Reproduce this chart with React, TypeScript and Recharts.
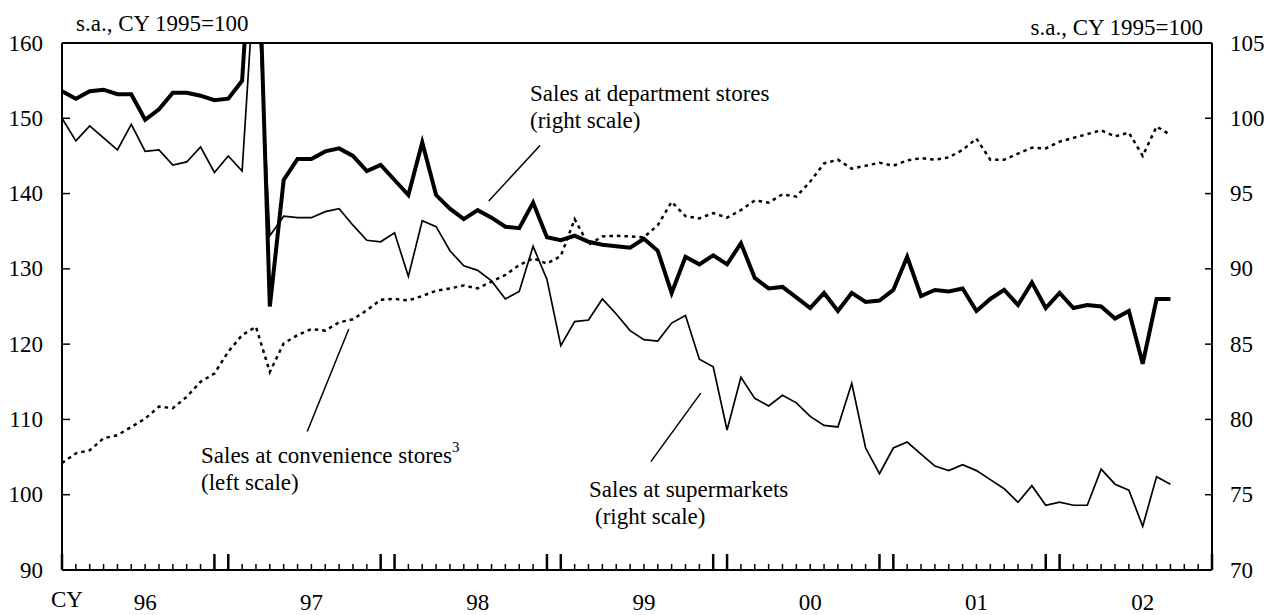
import React from "react";
import { LineChart, Line, XAxis, YAxis, ReferenceLine, Customized } from "recharts";

// monthly, Jan 1996 onwards
const yearLabels = ["96", "97", "98", "99", "00", "01", "02"];

// department stores, right scale
const deptStores = [
  101.8, 101.3, 101.8, 101.9, 101.6, 101.6, 99.9, 100.6, 101.7, 101.7, 101.5, 101.2,
  101.3, 102.5, 117.0, 87.5, 95.9, 97.3, 97.3, 97.8, 98.0, 97.5, 96.5, 96.9,
  95.9, 94.9, 98.4, 94.9, 94.0, 93.3, 93.9, 93.4, 92.8, 92.7, 94.4, 92.1,
  91.9, 92.2, 91.8, 91.6, 91.5, 91.4, 92.0, 91.2, 88.4, 90.8, 90.3, 90.9,
  90.3, 91.7, 89.4, 88.7, 88.8, 88.1, 87.4, 88.4, 87.2, 88.4, 87.8, 87.9,
  88.6, 90.8, 88.2, 88.6, 88.5, 88.7, 87.2, 88.0, 88.6, 87.6, 89.1, 87.4,
  88.4, 87.4, 87.6, 87.5, 86.7, 87.2, 83.7, 88.0, 88.0,
];

// supermarkets, right scale
const supermarkets = [
  100.0, 98.5, 99.5, 98.7, 97.9, 99.6, 97.8, 97.9, 96.9, 97.1, 98.1, 96.4,
  97.5, 96.5, 111.0, 92.2, 93.5, 93.4, 93.4, 93.8, 94.0, 92.9, 91.9, 91.8,
  92.4, 89.5, 93.2, 92.8, 91.2, 90.2, 89.9, 89.2, 88.0, 88.5, 91.5, 89.3,
  84.9, 86.5, 86.6, 88.0, 87.0, 85.9, 85.3, 85.2, 86.4, 86.9, 84.0, 83.5,
  79.3, 82.8, 81.4, 80.9, 81.6, 81.1, 80.2, 79.6, 79.5, 82.4, 78.1, 76.4,
  78.1, 78.5, 77.7, 76.9, 76.6, 77.0, 76.6, 76.0, 75.4, 74.5, 75.6, 74.3,
  74.5, 74.3, 74.3, 76.7, 75.7, 75.3, 72.9, 76.2, 75.7,
];

// convenience stores, left scale
const convenienceStores = [
  104.2, 105.5, 105.9, 107.5, 107.9, 109.0, 110.1, 111.7, 111.5, 113.0, 115.0, 116.1,
  119.0, 121.2, 122.3, 116.3, 120.1, 121.2, 122.0, 121.8, 122.9, 123.3, 124.5, 125.9,
  126.0, 125.8, 126.4, 127.1, 127.4, 127.8, 127.4, 128.3, 129.2, 130.5, 131.4, 130.7,
  131.7, 136.6, 133.2, 134.3, 134.4, 134.3, 134.2, 135.8, 138.9, 137.0, 136.7, 137.4,
  136.8, 137.8, 139.1, 138.8, 139.9, 139.6, 141.6, 144.0, 144.5, 143.3, 143.7, 144.1,
  143.7, 144.4, 144.7, 144.5, 144.8, 145.8, 147.3, 144.5, 144.5, 145.3, 146.1, 146.0,
  146.9, 147.4, 147.9, 148.4, 147.6, 148.1, 145.0, 148.9, 147.8,
];

const leftTicks = [90, 100, 110, 120, 130, 140, 150, 160];
const rightTicks = [70, 75, 80, 85, 90, 95, 100, 105];

const AXIS_END = yearLabels.length * 12 - 1;
const monthTicks = Array.from({ length: AXIS_END + 1 }, (_, i) => i);

const chartData = deptStores.map((d, i) => ({
  i,
  dept: d,
  superm: supermarkets[i],
  conv: convenienceStores[i],
}));

const FONT = '"Liberation Serif", "Times New Roman", serif';
const FS = 23;

const XTick = (props: any) => {
  const { x, y, payload } = props;
  const i = payload.value;
  const m = i % 12;
  const long = m === 0 || m === 11 || i === AXIS_END;
  return (
    <g>
      <line x1={x} x2={x} y1={y} y2={y - (long ? 16 : 6)} stroke="#000" strokeWidth={long ? 2.5 : 1.5} />
      {m === 6 && (
        <text x={x} y={y + 40} textAnchor="middle" fontFamily={FONT} fontSize={FS} fill="#000">
          {yearLabels[(i - 6) / 12]}
        </text>
      )}
      {i === 0 && (
        <text x={x - 11} y={y + 37} fontFamily={FONT} fontSize={FS} fill="#000">
          CY
        </text>
      )}
    </g>
  );
};

const LeftTick = (props: any) => {
  const { x, y, payload } = props;
  return (
    <g>
      <line x1={x} x2={x + 8} y1={y} y2={y} stroke="#000" strokeWidth={1.5} />
      <text x={x - 19} y={y} dy="0.33em" textAnchor="end" fontFamily={FONT} fontSize={FS} fill="#000">
        {payload.value}
      </text>
    </g>
  );
};

const RightTick = (props: any) => {
  const { x, y, payload } = props;
  return (
    <g>
      <line x1={x} x2={x - 7} y1={y} y2={y} stroke="#000" strokeWidth={1.5} />
      <text x={x + 18} y={y} dy="0.33em" textAnchor="start" fontFamily={FONT} fontSize={FS} fill="#000">
        {payload.value}
      </text>
    </g>
  );
};

const Annotations = () => (
  <g fontFamily={FONT} fontSize={FS} fill="#000">
    <text x={76} y={31}>s.a., CY 1995=100</text>
    <text x={1203} y={35} textAnchor="end">s.a., CY 1995=100</text>
    <text x={530} y={101}>Sales at department stores</text>
    <text x={530} y={128}>(right scale)</text>
    <text x={201} y={463}>
      Sales at convenience stores
      <tspan fontSize={15} dy={-11}>3</tspan>
    </text>
    <text x={201} y={490}>(left scale)</text>
    <text x={589} y={497}>Sales at supermarkets</text>
    <text x={595} y={524}>(right scale)</text>
  </g>
);

// leader lines, in axis units (month index, left scale)
const deptLeader = [{ x: 34.5, y: 146.4 }, { x: 30.8, y: 139.0 }];
const convLeader = [{ x: 20.7, y: 122.0 }, { x: 17.7, y: 108.4 }];
const superLeader = [{ x: 46.1, y: 113.5 }, { x: 42.5, y: 104.4 }];

export default function App() {
  return (
    <div style={{ position: "absolute", left: 0, top: 0, background: "#fff" }}>
      <LineChart
        width={1267}
        height={615}
        data={chartData}
        margin={{ top: 43, right: 0, bottom: 0, left: 0 }}
        style={{ fontFamily: FONT }}
      >
        <XAxis
          dataKey="i"
          type="number"
          domain={[0, AXIS_END]}
          ticks={monthTicks}
          interval={0}
          height={45}
          tickSize={0}
          tickMargin={0}
          tickLine={false}
          axisLine={{ stroke: "#000", strokeWidth: 2 }}
          tick={<XTick />}
        />
        <YAxis
          yAxisId="left"
          domain={[90, 160]}
          ticks={leftTicks}
          interval={0}
          allowDataOverflow
          width={62}
          tickSize={0}
          tickMargin={0}
          tickLine={false}
          axisLine={{ stroke: "#000", strokeWidth: 2 }}
          tick={<LeftTick />}
        />
        <YAxis
          yAxisId="right"
          orientation="right"
          domain={[70, 105]}
          ticks={rightTicks}
          interval={0}
          allowDataOverflow
          width={55}
          tickSize={0}
          tickMargin={0}
          tickLine={false}
          axisLine={{ stroke: "#000", strokeWidth: 2 }}
          tick={<RightTick />}
        />
        <ReferenceLine yAxisId="left" y={160} stroke="#000" strokeWidth={2} />
        <Line
          yAxisId="left"
          type="linear"
          dataKey="conv"
          stroke="#000"
          strokeWidth={2.5}
          strokeDasharray="3.5 4"
          dot={false}
          isAnimationActive={false}
        />
        <Line
          yAxisId="right"
          type="linear"
          dataKey="superm"
          stroke="#000"
          strokeWidth={1.7}
          dot={false}
          isAnimationActive={false}
        />
        <Line
          yAxisId="right"
          type="linear"
          dataKey="dept"
          stroke="#000"
          strokeWidth={4}
          dot={false}
          isAnimationActive={false}
        />
        <ReferenceLine yAxisId="left" segment={deptLeader} stroke="#000" strokeWidth={1.5} />
        <ReferenceLine yAxisId="left" segment={convLeader} stroke="#000" strokeWidth={1.5} />
        <ReferenceLine yAxisId="left" segment={superLeader} stroke="#000" strokeWidth={1.5} />
        <Customized component={<Annotations />} />
      </LineChart>
    </div>
  );
}
